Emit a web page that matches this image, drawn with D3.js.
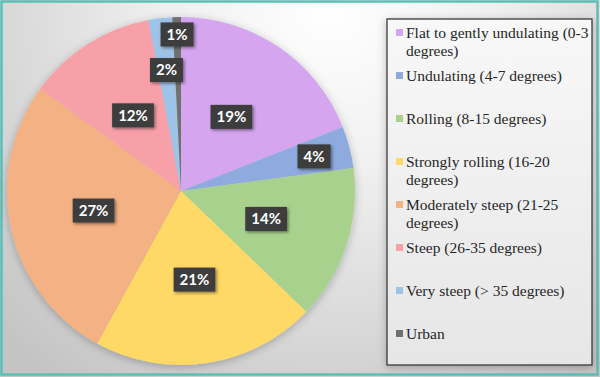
<!DOCTYPE html>
<html><head><meta charset="utf-8">
<script src="https://cdn.jsdelivr.net/npm/d3@7"></script>
<style>
html,body{margin:0;padding:0;background:#fff;}
svg{display:block;}
</style></head>
<body>
<svg id="chart" width="600" height="377"></svg>
<script>
const categories = [
  "Flat to gently undulating (0-3 degrees)",
  "Undulating (4-7 degrees)",
  "Rolling (8-15 degrees)",
  "Strongly rolling (16-20 degrees)",
  "Moderately steep (21-25 degrees)",
  "Steep (26-35 degrees)",
  "Very steep (> 35 degrees)",
  "Urban"
];
const values = [19.0, 3.9, 14.3, 20.8, 27.0, 12.0, 2.2, 0.8];
const valueLabels = ["19%", "4%", "14%", "21%", "27%", "12%", "2%", "1%"];
const colors = ["#d5a6ef", "#8eaade", "#a9d18e", "#ffd966", "#f4b183", "#f7a0a8", "#9dc3e6", "#6f6f6f"];

const W = 600, H = 377;
const svg = d3.select("#chart");
const defs = svg.append("defs");

const bg = defs.append("radialGradient").attr("id", "bg")
  .attr("gradientUnits", "userSpaceOnUse")
  .attr("cx", 330).attr("cy", 10).attr("r", 460);
bg.append("stop").attr("offset", "0%").attr("stop-color", "#ffffff");
bg.append("stop").attr("offset", "35%").attr("stop-color", "#f0f0f0");
bg.append("stop").attr("offset", "100%").attr("stop-color", "#c4c4c4");

const lg = defs.append("linearGradient").attr("id", "lg").attr("x1", 0).attr("y1", 0).attr("x2", 0).attr("y2", 1);
lg.append("stop").attr("offset", "0%").attr("stop-color", "#f8f8f8");
lg.append("stop").attr("offset", "100%").attr("stop-color", "#e6e6e6");

const sh = defs.append("filter").attr("id", "sh").attr("x", "-30%").attr("y", "-30%").attr("width", "160%").attr("height", "160%");
sh.append("feDropShadow").attr("dx", 1.5).attr("dy", 1.5).attr("stdDeviation", 1.5).attr("flood-color", "#000").attr("flood-opacity", 0.45);

const psh = defs.append("filter").attr("id", "psh").attr("x", "-20%").attr("y", "-20%").attr("width", "140%").attr("height", "140%");
psh.append("feDropShadow").attr("dx", 0).attr("dy", 2).attr("stdDeviation", 4).attr("flood-color", "#000").attr("flood-opacity", 0.25);

// background + teal frame
svg.append("rect").attr("x", 0).attr("y", 0).attr("width", W).attr("height", H).attr("fill", "url(#bg)");
svg.append("rect").attr("x", 1.5).attr("y", 1.5).attr("width", W - 4).attr("height", H - 4)
  .attr("fill", "none").attr("stroke", "#5cbfb7").attr("stroke-width", 2.5);

// pie
const cx = 181, cy = 191, R = 174;
const pie = d3.pie().sort(null).value(d => d)(values);
const arc = d3.arc().innerRadius(0).outerRadius(R);
const g = svg.append("g").attr("transform", `translate(${cx},${cy})`);
g.append("g").attr("filter", "url(#psh)")
  .selectAll("path").data(pie).join("path")
  .attr("d", arc).attr("fill", (d, i) => colors[i]);

function labelFactor(v) {
  if (v >= 10) return 0.515;
  if (v >= 3) return 0.79;
  if (v >= 1.5) return 0.70;
  return 0.9;
}
const lab = g.append("g").selectAll("g").data(pie).join("g")
  .attr("transform", d => {
    const a = (d.startAngle + d.endAngle) / 2;
    const r = R * labelFactor(d.data);
    return `translate(${r * Math.sin(a)},${-r * Math.cos(a)})`;
  });
lab.append("rect").attr("fill", "#3d3d3d").attr("filter", "url(#sh)");
lab.append("text")
  .attr("text-anchor", "middle").attr("dy", "0.36em")
  .attr("font-family", "Lato, 'Open Sans', sans-serif").attr("font-weight", "bold")
  .attr("font-size", 15).attr("fill", "#ffffff")
  .text((d, i) => valueLabels[i]);
lab.each(function() {
  const t = d3.select(this).select("text").node().getComputedTextLength();
  const w = t + 12, h = 24;
  d3.select(this).select("rect").attr("x", -w / 2).attr("y", -h / 2).attr("width", w).attr("height", h);
});

// legend
const lx = 387, ly = 19, lw = 205, lh = 346;
svg.append("rect").attr("x", lx).attr("y", ly).attr("width", lw).attr("height", lh)
  .attr("fill", "url(#lg)").attr("stroke", "#3a3a3a").attr("stroke-width", 1.3)
  .attr("filter", "url(#psh)");
const leg = svg.append("g");
const maxW = 184;
categories.forEach((c, i) => {
  const base = 38 + i * 43;
  leg.append("rect").attr("x", 396).attr("y", base - 9).attr("width", 7).attr("height", 7).attr("fill", colors[i]);
  const t = leg.append("text").attr("x", 406).attr("y", base)
    .attr("font-family", "'Liberation Serif', 'Times New Roman', serif").attr("font-size", 15.5)
    .attr("fill", "#262626");
  const words = c.split(" ");
  let line = [], lineNo = 0;
  let ts = t.append("tspan").attr("x", 406).attr("y", base);
  words.forEach(w => {
    line.push(w);
    ts.text(line.join(" "));
    if (ts.node().getComputedTextLength() > maxW && line.length > 1) {
      line.pop();
      ts.text(line.join(" "));
      line = [w];
      lineNo++;
      ts = t.append("tspan").attr("x", 406).attr("y", base + lineNo * 18).text(w);
    }
  });
});
</script>
</body></html>
